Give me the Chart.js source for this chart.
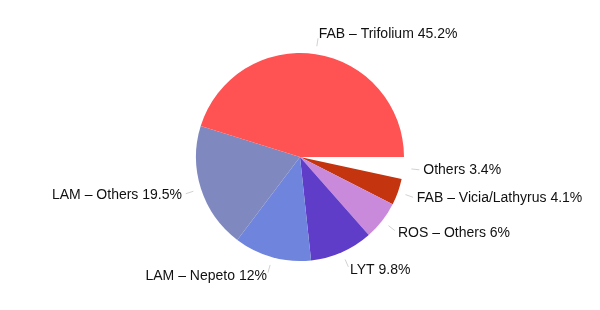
<!DOCTYPE html>
<html lang="en">
<head>
    <meta charset="UTF-8">
    <title>Pollen sources</title>
    <script src="https://cdn.jsdelivr.net/npm/chart.js"></script>
    <style>
        body { margin: 0; background: #ffffff; }
        #grafico { display: block; }
    </style>
</head>
<body>
    <canvas id="grafico" width="600" height="310"></canvas>

<script>
    // dados (ordem horaria a partir do leste)
    const categorias = ['Others', 'FAB – Vicia/Lathyrus', 'ROS – Others', 'LYT', 'LAM – Nepeto', 'LAM – Others', 'FAB – Trifolium'];
    const percentuais = [3.4, 4.1, 6, 9.8, 12, 19.5, 45.2];
    const cores = ['#ffffff', '#c3340f', '#c98adc', '#5f3dc9', '#6f84dc', '#7f89c0', '#ff5252'];

    // plugin simples para os rotulos com linha de chamada
    const rotulos = {
        id: 'rotulos',
        afterDraw(chart) {
            const ctx = chart.ctx;
            const arcos = chart.getDatasetMeta(0).data;
            ctx.save();
            ctx.font = '14px "Liberation Sans", Arial, sans-serif';
            ctx.fillStyle = '#111111';
            ctx.textBaseline = 'middle';
            arcos.forEach(function (arco, i) {
                const meio = (arco.startAngle + arco.endAngle) / 2;
                const c = Math.cos(meio), s = Math.sin(meio);
                const r = arco.outerRadius;
                ctx.strokeStyle = '#bdbdbd';
                ctx.lineWidth = 0.7;
                ctx.beginPath();
                ctx.moveTo(arco.x + c * (r + 8), arco.y + s * (r + 8));
                ctx.lineTo(arco.x + c * (r + 16), arco.y + s * (r + 16));
                ctx.stroke();
                const tx = arco.x + c * (r + 20);
                const ty = arco.y + s * (r + 20);
                ctx.textAlign = c >= 0 ? 'left' : 'right';
                ctx.fillText(categorias[i] + ' ' + percentuais[i] + '%', tx, ty);
            });
            ctx.restore();
        }
    };

    const dados = {
        labels: categorias,
        datasets: [{
            data: percentuais,
            backgroundColor: cores,
            borderWidth: 0
        }]
    };

    const config = {
        type: 'pie',
        data: dados,
        options: {
            responsive: false,
            animation: false,
            rotation: 90,
            layout: { padding: { top: 53, bottom: 49, left: 100, right: 100 } },
            plugins: {
                legend: { display: false },
                tooltip: { enabled: false }
            }
        },
        plugins: [rotulos]
    };

    new Chart(document.getElementById('grafico'), config);
</script>
</body>
</html>
